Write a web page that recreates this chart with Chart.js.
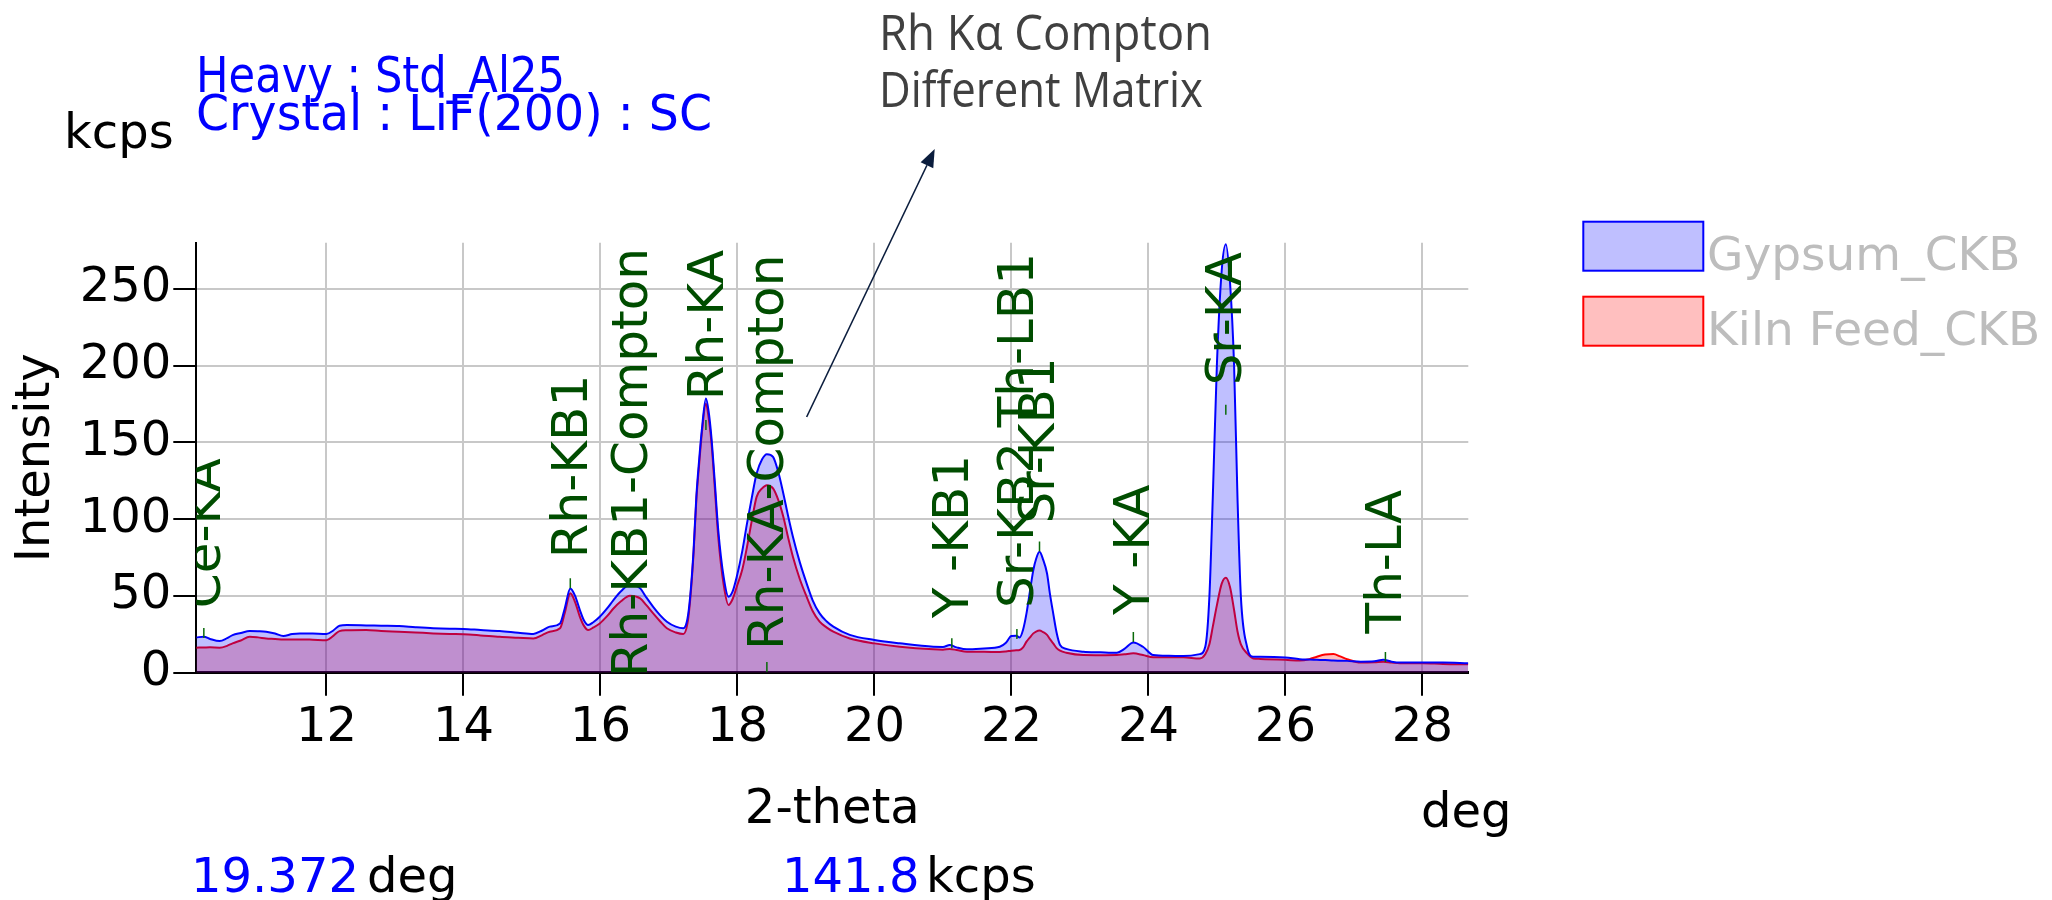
<!DOCTYPE html>
<html><head><meta charset="utf-8">
<style>html,body{margin:0;padding:0;background:#fff;}canvas{display:block;}</style>
<script src="https://cdn.jsdelivr.net/npm/chart.js@4.4.1/dist/chart.umd.min.js"></script>
</head><body>
<canvas id="c" width="2052" height="900"></canvas>
<script>
// ---- data ----
const twoTheta = [10.10,10.21,10.30,10.44,10.55,10.63,10.75,10.88,11.00,11.12,11.25,11.37,11.50,11.61,11.80,12.00,12.10,12.19,12.30,12.58,12.80,13.06,13.30,13.56,13.80,14.00,14.25,14.53,14.80,15.02,15.15,15.26,15.41,15.48,15.56,15.63,15.70,15.76,15.82,15.90,15.99,16.10,16.19,16.30,16.43,16.58,16.67,16.77,16.87,16.97,17.10,17.21,17.27,17.31,17.36,17.40,17.44,17.48,17.54,17.58,17.62,17.67,17.72,17.80,17.87,17.93,17.99,18.07,18.14,18.21,18.28,18.36,18.43,18.52,18.60,18.67,18.74,18.81,18.91,19.01,19.10,19.20,19.30,19.40,19.64,20.00,20.37,20.86,21.00,21.10,21.20,21.35,21.60,21.83,21.92,22.00,22.07,22.12,22.17,22.22,22.27,22.32,22.36,22.41,22.46,22.52,22.56,22.61,22.66,22.71,22.80,23.05,23.30,23.54,23.65,23.78,23.92,24.07,24.30,24.51,24.75,24.83,24.89,24.94,25.00,25.07,25.13,25.19,25.25,25.30,25.35,25.44,25.53,25.63,26.00,26.21,26.35,26.46,26.58,26.70,26.80,26.90,27.10,27.30,27.43,27.55,27.67,28.00,28.30,28.67];
const gypsum = [23.0,23.4,22.0,20.6,22.5,24.5,25.8,27.1,27.0,26.7,25.5,23.9,25.2,25.6,25.5,25.2,27.5,30.6,31.0,30.8,30.6,30.4,29.6,28.9,28.6,28.5,27.8,27.1,26.0,25.2,27.5,30.0,32.1,42.0,54.9,50.0,40.8,34.0,31.0,33.0,36.4,42.0,47.3,53.0,57.5,54.9,49.0,42.9,37.5,33.2,30.0,28.9,35.0,49.5,80.0,114.5,138.0,157.9,178.5,170.0,153.5,124.0,92.9,62.0,49.5,53.0,62.5,79.0,97.2,114.0,129.7,139.0,142.3,140.5,130.0,116.7,102.0,88.5,72.0,58.2,47.0,38.6,33.5,30.0,24.6,21.3,19.1,16.9,16.8,18.0,16.5,15.2,15.8,16.9,19.5,23.9,24.0,23.0,28.0,38.6,53.0,66.8,74.0,78.7,74.0,64.6,52.0,38.6,26.0,18.0,15.5,13.7,13.3,13.0,15.5,19.7,16.9,11.5,11.0,10.8,12.1,16.9,49.4,114.5,201.0,262.0,279.0,255.0,201.0,114.5,49.4,16.9,10.4,10.4,9.9,8.8,8.6,8.4,8.2,7.9,7.8,7.7,7.2,7.4,8.4,7.2,6.6,6.6,6.6,6.2];
const kilnFeed = [16.3,16.4,16.5,16.3,17.5,19.1,21.0,23.4,23.0,22.3,22.0,21.6,21.7,21.7,21.5,21.2,24.0,27.1,27.6,27.8,27.2,26.7,26.2,25.6,25.2,25.0,24.3,23.4,22.8,22.3,24.5,26.7,28.9,39.0,51.7,46.0,36.4,30.5,27.8,29.5,32.1,37.0,41.8,46.5,50.1,48.4,44.0,38.6,33.5,28.9,26.2,25.2,32.0,47.3,78.0,112.4,135.0,155.7,175.2,166.0,150.3,120.0,88.5,57.0,44.1,48.0,56.0,67.0,82.0,99.0,114.5,120.0,122.1,120.0,112.0,101.5,88.0,75.5,61.0,49.5,40.0,33.2,29.5,26.7,22.3,19.1,16.9,15.2,15.0,15.4,14.8,13.7,13.6,13.5,13.8,14.3,14.6,14.8,16.5,20.2,23.0,25.6,26.8,27.4,26.5,24.6,22.0,19.1,16.0,14.3,13.0,11.5,11.4,11.5,12.0,12.6,11.5,10.0,10.0,10.0,9.3,12.0,18.5,30.0,44.0,58.0,61.8,56.0,41.0,27.0,18.5,12.6,9.3,9.0,8.4,7.9,8.8,10.4,11.8,12.1,10.6,8.8,6.6,6.8,7.2,6.6,6.2,6.2,5.7,5.5];
const seriesNames = ['Gypsum_CKB', 'Kiln Feed_CKB'];
const xTicks = [12, 14, 16, 18, 20, 22, 24, 26, 28];
const yTicks = [0, 50, 100, 150, 200, 250];
// peak identification labels (position in deg, label start in kcps)
const lineLabels = ['Ce-KA','Rh-KB1','Rh-KB1-Compton','Rh-KA','Rh-KA-Compton','Y -KB1','Sr-KB2','Th-LB1','Sr-KB1','Y -KA','Sr-KA','Th-LA'];
const labelPos   = [10.18, 15.54, 16.41, 17.52, 18.40, 21.10, 22.05, 22.05, 22.36, 23.74, 25.09, 27.42];
const labelStart = [42, 74.6, -3, 177.4, 14.8, 35.4, 42.1, 159.8, 97.2, 37.5, 187.1, 25.6];
const markerPos  = [10.21, 15.56, 17.54, 18.43, 21.13, 22.08, 22.41, 23.78, 25.13, 27.46];
const markerBase = [22.6, 55, 158, 0.5, 16, 22, 79, 20, 168, 7];
const headerLines = ['Heavy : Std_Al25', 'Crystal : LiF(200) : SC'];
const noteLines = ['Rh K\u03b1 Compton', 'Different Matrix'];
const arrowFrom = [19.01, 166.5];
const arrowTo = [20.88, 341];
const cursorDeg = '19.372';
const cursorKcps = '141.8';

// ---- drawing ----
const FONT = '"DejaVu Sans"';
Chart.defaults.font.family = FONT;

function fitText(ctx, text, x, y, w) {
  const m = ctx.measureText(text).width;
  ctx.save(); ctx.translate(x, y); ctx.scale(w / m, 1); ctx.fillText(text, 0, 0); ctx.restore();
}

const decor = {
  id: 'decor',
  afterDatasetsDraw(chart) {
    const {ctx, chartArea: a, scales: {x, y}} = chart;
    ctx.save();
    ctx.beginPath(); ctx.rect(a.left, a.top, a.right - a.left, a.bottom - a.top); ctx.clip();
    ctx.strokeStyle = '#0a6a0a'; ctx.lineWidth = 1.5;
    markerPos.forEach((p, i) => {
      const px = x.getPixelForValue(p), py = y.getPixelForValue(markerBase[i]);
      ctx.beginPath(); ctx.moveTo(px, py); ctx.lineTo(px, py - 10); ctx.stroke();
    });
    ctx.fillStyle = '#004d00';
    ctx.font = '50px ' + FONT; ctx.textAlign = 'left'; ctx.textBaseline = 'alphabetic';
    lineLabels.forEach((t, i) => {
      const px = x.getPixelForValue(labelPos[i]), py = y.getPixelForValue(labelStart[i]);
      ctx.save(); ctx.translate(px + 18, py); ctx.rotate(-Math.PI / 2); ctx.fillText(t, 0, 0); ctx.restore();
    });
    ctx.restore();
  },
  afterDraw(chart) {
    const {ctx, scales: {x, y}} = chart;
    ctx.save();
    ctx.textAlign = 'left'; ctx.textBaseline = 'alphabetic';
    // header
    ctx.fillStyle = '#0000ff'; ctx.font = '50px ' + FONT;
    fitText(ctx, headerLines[0], 196, 91.7, 369);
    fitText(ctx, headerLines[1], 196, 130, 516);
    ctx.fillStyle = '#000'; ctx.font = '48px ' + FONT;
    ctx.fillText('kcps', 64, 148.3);
    // annotation
    ctx.fillStyle = '#404040'; ctx.font = '49px "Open Sans"';
    fitText(ctx, noteLines[0], 879, 50, 333);
    fitText(ctx, noteLines[1], 879, 106.7, 324);
    const x0 = x.getPixelForValue(arrowFrom[0]), y0 = y.getPixelForValue(arrowFrom[1]);
    const x1 = x.getPixelForValue(arrowTo[0]), y1 = y.getPixelForValue(arrowTo[1]);
    const ang = Math.atan2(y1 - y0, x1 - x0), L = 18, W = 7;
    ctx.strokeStyle = '#0b1d3d'; ctx.fillStyle = '#0b1d3d'; ctx.lineWidth = 1.6;
    ctx.beginPath(); ctx.moveTo(x0, y0);
    ctx.lineTo(x1 - L * Math.cos(ang), y1 - L * Math.sin(ang)); ctx.stroke();
    ctx.beginPath(); ctx.moveTo(x1, y1);
    ctx.lineTo(x1 - L * Math.cos(ang) + W * Math.sin(ang), y1 - L * Math.sin(ang) - W * Math.cos(ang));
    ctx.lineTo(x1 - L * Math.cos(ang) - W * Math.sin(ang), y1 - L * Math.sin(ang) + W * Math.cos(ang));
    ctx.closePath(); ctx.fill();
    // legend
    chart.data.datasets.forEach((ds, i) => {
      const by = 221.7 + i * 75;
      ctx.fillStyle = '#fff'; ctx.fillRect(1583.3, by, 120, 49);
      ctx.fillStyle = ds.backgroundColor; ctx.fillRect(1583.3, by, 120, 49);
      ctx.strokeStyle = ds.borderColor; ctx.lineWidth = 2; ctx.strokeRect(1583.3, by, 120, 49);
      ctx.fillStyle = '#bdbdbd'; ctx.font = '47px ' + FONT;
      ctx.fillText(ds.label, 1707, 270 + i * 74.5);
    });
    // axis unit and cursor readout
    ctx.fillStyle = '#000'; ctx.font = '48px ' + FONT;
    ctx.fillText('deg', 1421, 826.7);
    ctx.fillStyle = '#0000ff'; ctx.fillText(cursorDeg, 191, 891.7);
    ctx.fillStyle = '#000'; ctx.fillText('deg', 367, 891.7);
    ctx.fillStyle = '#0000ff'; ctx.fillText(cursorKcps, 782, 891.7);
    ctx.fillStyle = '#000'; ctx.fillText('kcps', 926, 891.7);
    ctx.restore();
  }
};

const gridCfg = {color: '#c8c8c8', lineWidth: 2, tickColor: '#000', tickWidth: 2, tickLength: 23};

new Chart(document.getElementById('c'), {
  type: 'line',
  data: {
    datasets: [
      {label: seriesNames[0], data: twoTheta.map((t, i) => ({x: t, y: gypsum[i]})),
       borderColor: '#0000ff', backgroundColor: 'rgba(0,0,255,0.25)', fill: 'origin', borderWidth: 2},
      {label: seriesNames[1], data: twoTheta.map((t, i) => ({x: t, y: kilnFeed[i]})),
       borderColor: '#ff0000', backgroundColor: 'rgba(255,0,0,0.25)', fill: 'origin', borderWidth: 2}
    ]
  },
  options: {
    responsive: false, animation: false, devicePixelRatio: 1,
    layout: {padding: {left: 0, top: 242.7, right: 583.7, bottom: 0}},
    plugins: {legend: {display: false}, tooltip: {enabled: false}},
    elements: {point: {radius: 0}, line: {cubicInterpolationMode: 'monotone'}},
    scales: {
      x: {
        type: 'linear', min: 10.1, max: 28.67,
        afterBuildTicks: s => { s.ticks = xTicks.map(v => ({value: v})); },
        afterFit: s => { s.height = 227.3; },
        ticks: {autoSkip: false, maxRotation: 0, padding: 4, color: '#000', font: {size: 48}},
        grid: gridCfg,
        border: {color: '#000', width: 3},
        title: {display: true, text: '2-theta', color: '#000', font: {size: 48}, padding: {top: 0, bottom: 61}}
      },
      y: {
        min: 0, max: 280,
        afterBuildTicks: s => { s.ticks = yTicks.map(v => ({value: v})); },
        afterFit: s => { s.width = 196.3; },
        ticks: {padding: 2, color: '#000', font: {size: 48}},
        grid: gridCfg,
        border: {color: '#000', width: 2},
        title: {display: true, text: 'Intensity', color: '#000', font: {size: 48}, padding: {top: 8, bottom: 0}}
      }
    }
  },
  plugins: [decor]
});
</script>
</body></html>
